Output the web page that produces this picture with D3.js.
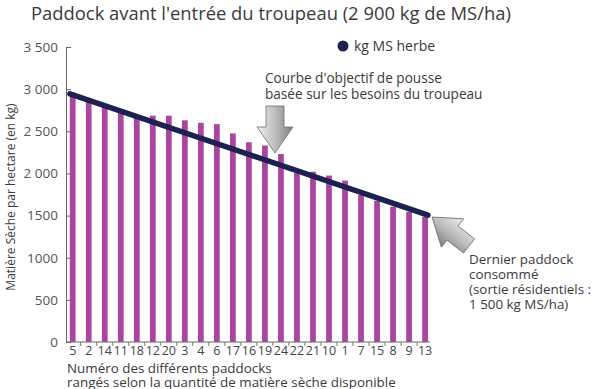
<!DOCTYPE html>
<html>
<head>
<meta charset="utf-8">
<script src="https://cdn.jsdelivr.net/npm/d3@7"></script>
<style>
  body { margin: 0; background: #fff; }
  svg text { font-family: "Open Sans", sans-serif; }
</style>
</head>
<body>
<div id="chart"></div>
<script>
// paddocks classés selon la matière sèche disponible
let paddocks = ["5", "2", "14", "11", "18", "12", "20", "3", "4", "6", "17", "16", "19", "24", "22", "21", "10", "1", "7", "15", "8", "9", "13"]
let herbe = [2960, 2850, 2790, 2725, 2660, 2685, 2685, 2630, 2600, 2585, 2475, 2370, 2330, 2230, 2005, 2020, 1975, 1915, 1745, 1675, 1605, 1545, 1485]
// courbe d'objectif : du premier au dernier paddock
let objectif = [2945, 1505]
let yTicks = [0, 500, 1000, 1500, 2000, 2500, 3000, 3500]
let yTickLabels = ["0", "500", "1000", "1500", "2 000", "2 500", "3 000", "3 500"]

let width = 600, height = 389
let svg = d3.select("#chart")
    .append("svg")
    .attr("width", width)
    .attr("height", height)

let x = d3.scaleBand()
    .domain(paddocks)
    .range([64.7, 433.1])
    .paddingInner(0.64)
    .paddingOuter(0.32)
let y = d3.scaleLinear()
    .domain([0, 3500])
    .range([342, 47])

let txt = "#3a3a3a"

//titre
svg.append("text")
    .attr("x", 31)
    .attr("y", 19.5)
    .attr("font-size", 18.4)
    .attr("fill", txt)
    .text("Paddock avant l'entrée du troupeau (2 900 kg de MS/ha)")

//barres
svg.append("g")
    .selectAll("rect")
    .data(herbe)
    .enter()
    .append("rect")
    .attr("x", (d, i) => x(paddocks[i]))
    .attr("y", (d) => y(d))
    .attr("width", x.bandwidth())
    .attr("height", (d) => y(0) - y(d))
    .attr("fill", "#aa46a0")

//axe y
let yAxis = svg.append("g")
    .attr("transform", "translate(66,0)")
    .call(d3.axisLeft(y)
        .tickValues(yTicks)
        .tickSize(-5)
        .tickPadding(8)
        .tickFormat((d, i) => yTickLabels[i]))
yAxis.select(".domain").attr("stroke", "#666")
yAxis.selectAll(".tick line").attr("stroke", "#666")
yAxis.selectAll("text")
    .attr("font-size", 13.5)
    .attr("fill", "#555")
    .attr("font-family", "Open Sans")

//axe x
let xAxis = svg.append("g")
    .attr("transform", `translate(0,${y(0)})`)
    .call(d3.axisBottom(x).tickSize(0).tickPadding(4))
xAxis.select(".domain")
    .attr("stroke", "#666")
    .attr("d", `M66,0H430`)
xAxis.selectAll("text")
    .attr("font-size", 12.5)
    .attr("fill", "#444")
    .attr("font-family", "Open Sans")
xAxis.selectAll(".sep")
    .data(paddocks.slice(1))
    .enter()
    .append("line")
    .attr("class", "sep")
    .attr("x1", (d) => x(d) - x.step() * x.paddingInner() / 2)
    .attr("x2", (d) => x(d) - x.step() * x.paddingInner() / 2)
    .attr("y1", 0)
    .attr("y2", 4)
    .attr("stroke", "#777")

//titres des axes
svg.append("text")
    .attr("transform", "translate(15,197) rotate(-90)")
    .attr("text-anchor", "middle")
    .attr("font-size", 12)
    .attr("fill", txt)
    .text("Matière Sèche par hectare (en kg)")
let xTitle = svg.append("text")
    .attr("font-size", 13.4)
    .attr("fill", txt)
xTitle.append("tspan").attr("x", 67).attr("y", 372.5).text("Numéro des différents paddocks")
xTitle.append("tspan").attr("x", 67).attr("y", 386.5).text("rangés selon la quantité de matière sèche disponible")

//courbe d'objectif
let first = paddocks[0], last = paddocks[paddocks.length - 1]
let linePts = [[x(first), objectif[0]], [x(last) + x.bandwidth(), objectif[1]]]
svg.append("path")
    .attr("d", d3.line().x((d) => d[0]).y((d) => y(d[1]))(linePts))
    .attr("stroke", "#1d2152")
    .attr("stroke-width", 5.5)
    .attr("stroke-linecap", "round")
    .attr("fill", "none")

//légende
svg.append("circle")
    .attr("cx", 343)
    .attr("cy", 46)
    .attr("r", 5.5)
    .attr("fill", "#1d2152")
svg.append("text")
    .attr("x", 354)
    .attr("y", 51)
    .attr("font-size", 14)
    .attr("fill", txt)
    .text("kg MS herbe")

//flèches grises
let defs = svg.append("defs")
let grad = defs.append("linearGradient")
    .attr("id", "arrowGrad")
    .attr("x1", 0).attr("y1", 0).attr("x2", 1).attr("y2", 0)
grad.append("stop").attr("offset", "0%").attr("stop-color", "#efefef")
grad.append("stop").attr("offset", "55%").attr("stop-color", "#b9b9b9")
grad.append("stop").attr("offset", "100%").attr("stop-color", "#7d7d7d")
// forme de flèche vers le bas, pointe en (0,0)
let arrowShape = "M-9,-47 L9,-47 L9,-26 L18,-26 L0,0 L-18,-26 L-9,-26 Z"
function arrow(tx, ty, angle) {
    svg.append("path")
        .attr("d", arrowShape)
        .attr("transform", `translate(${tx},${ty}) rotate(${angle})`)
        .attr("fill", "url(#arrowGrad)")
        .attr("stroke", "#6d6d6d")
        .attr("stroke-width", 0.8)
}
arrow(275, 153, 0)
arrow(432, 217, 128)

//annotations
let note1 = svg.append("text").attr("font-size", 13.6).attr("fill", txt)
note1.append("tspan").attr("x", 265).attr("y", 83).text("Courbe d'objectif de pousse")
note1.append("tspan").attr("x", 265).attr("y", 99).text("basée sur les besoins du troupeau")
let note2 = svg.append("text").attr("font-size", 13.4).attr("fill", txt)
let note2Lines = ["Dernier paddock", "consommé", "(sortie résidentiels :", "1 500 kg MS/ha)"]
note2Lines.forEach((l, i) => {
    note2.append("tspan").attr("x", 469).attr("y", 264 + i * 15).text(l)
})
</script>
</body>
</html>
